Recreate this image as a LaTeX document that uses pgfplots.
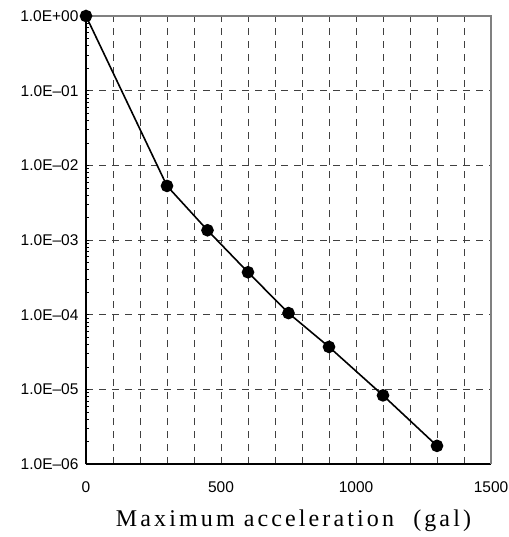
\documentclass[border=0pt]{standalone}
\usepackage{pgfplots}
\pgfplotsset{compat=1.18}
\usepackage{fontspec}
\setmainfont{Liberation Sans}
\newfontfamily\labelfont[LetterSpace=13]{Liberation Serif}
\begin{document}
\begin{tikzpicture}
\begin{axis}[
  name=ax,
  scale only axis,
  width=405pt, height=448pt,
  ymode=log,
  xmin=0, xmax=1500,
  ymin=1e-6, ymax=1,
  axis x line*=bottom,
  axis y line*=left,
  axis line style={black, line width=1.6pt},
  xtick={0,500,1000,1500},
  xticklabels={0,500,1000,1500},
  minor xtick={100,200,300,400,600,700,800,900,1100,1200,1300,1400},
  ytick={1e-6,1e-5,1e-4,1e-3,1e-2,1e-1,1},
  yticklabels={1.0E--06,1.0E--05,1.0E--04,1.0E--03,1.0E--02,1.0E--01,1.0E+00},
  xmajorgrids, xminorgrids, ymajorgrids,
  major grid style={black!75, dashed, line width=0.8pt, dash pattern=on 7pt off 6pt},
  minor grid style={black!75, dashed, line width=0.8pt, dash pattern=on 7pt off 6pt},
  tick style={black, line width=0.6pt},
  major tick length=0pt,
  minor tick length=3pt,
  xtick style={draw=none},
  minor x tick style={draw=none},
  tick align=inside,
  xticklabel style={yshift=-14pt, font=\fontsize{15.5}{17}\selectfont},
  yticklabel style={xshift=-4pt, font=\fontsize{15.5}{17}\selectfont},
  xlabel={\labelfont\fontsize{24}{28}\selectfont Maximum acceleration\hspace{0.8em}(gal)},
  xlabel style={yshift=-10pt, xshift=5pt},
  clip=false,
]
\draw[gray, line width=1.4pt] (rel axis cs:0,1) -- (rel axis cs:1,1) -- (rel axis cs:1,0);
\addplot[black, line width=1.6pt, mark=*, mark size=5.5pt] coordinates {
  (0,1) (300,5.3e-3) (450,1.35e-3) (600,3.7e-4) (750,1.05e-4) (900,3.7e-5) (1100,8.3e-6) (1300,1.75e-6)
};
\end{axis}
\pgfresetboundingbox
\path ([xshift=-86pt,yshift=-73pt]ax.south west) rectangle ([xshift=17pt,yshift=16pt]ax.north east);
\end{tikzpicture}
\end{document}
